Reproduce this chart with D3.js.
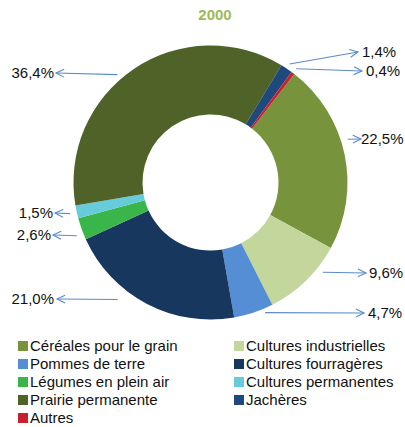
<!DOCTYPE html>
<html>
<head>
<meta charset="utf-8">
<script src="https://cdn.jsdelivr.net/npm/d3@7/dist/d3.min.js"></script>
<style>
  body { margin: 0; background: #fff; }
  svg { font-family: "Liberation Sans", Arial, sans-serif; }
</style>
</head>
<body>
<div id="chart"></div>
<script>
// data (sum slightly over 100 because of rounding)
var categories = ["Céréales pour le grain", "Cultures industrielles", "Pommes de terre",
  "Cultures fourragères", "Légumes en plein air", "Cultures permanentes",
  "Prairie permanente", "Jachères", "Autres"];
var shares = [22.5, 9.6, 4.7, 21.0, 2.6, 1.5, 36.4, 1.4, 0.4];
var labels = ["22,5%", "9,6%", "4,7%", "21,0%", "2,6%", "1,5%", "36,4%", "1,4%", "0,4%"];
var colors = ["#77933c", "#c3d69b", "#558ed5", "#17375e", "#3ab54a", "#66ccda", "#4f6228", "#1f497d", "#c8202e"];
var title = "2000";

// label placement (manual in the original): where on the slice the arrow starts
// (fraction of the slice angle, fraction of the outer radius), where its head sits,
// and the gap between head and text
var labelLayout = [
  { f: 0.43, k: 1.05, hx: 361, hy: 139, side: "right", gap: 0 },
  { f: 0.29, k: 1.05, hx: 366, hy: 273, side: "right", gap: 3 },
  { f: 0.24, k: 1.03, hx: 364, hy: 313, side: "right", gap: 4 },
  { f: 0.64, k: 1.09, hx: 57, hy: 299, side: "left", gap: 3 },
  { f: 0.29, k: 1.05, hx: 53, hy: 235, side: "left", gap: 2 },
  { f: 0.48, k: 1.05, hx: 55, hy: 213, side: "left", gap: 2 },
  { f: 0.45, k: 1.04, hx: 56, hy: 73, side: "left", gap: 2 },
  { f: 0.5, k: 1.04, hx: 358, hy: 52, side: "right", gap: 4 },
  { f: 0.5, k: 1.04, hx: 362, hy: 71, side: "right", gap: 4 }
];

var width = 405, height = 427;
var cx = 210.5, cy = 182.5;
var outerR = 137, innerR = 68;
var startAngle = 37.7 * Math.PI / 180;

var svg = d3.select("#chart").append("svg")
  .attr("width", width)
  .attr("height", height);

// title
svg.append("text")
  .attr("x", 215)
  .attr("y", 20)
  .attr("text-anchor", "middle")
  .style("font-size", "15px")
  .style("font-weight", "bold")
  .style("fill", "#9bbb59")
  .text(title);

var pie = d3.pie()
  .sort(null)
  .value(d => d)
  .startAngle(startAngle)
  .endAngle(startAngle + 2 * Math.PI);

var arcs = pie(shares);

var arc = d3.arc()
  .innerRadius(innerR)
  .outerRadius(outerR);

var g = svg.append("g")
  .attr("transform", `translate(${cx},${cy})`);

g.selectAll("path.slice")
  .data(arcs)
  .join("path")
  .attr("class", "slice")
  .attr("d", arc)
  .attr("fill", (d, i) => colors[i]);

// arrows + labels
var arrowColor = "#5b8bc9";
var ann = svg.append("g");

arcs.forEach(function (d, i) {
  var lay = labelLayout[i];
  var a = d.startAngle + lay.f * (d.endAngle - d.startAngle);
  var r = outerR * lay.k;
  var tx = cx + r * Math.sin(a);
  var ty = cy - r * Math.cos(a);
  var hx = lay.hx, hy = lay.hy;

  ann.append("line")
    .attr("x1", tx).attr("y1", ty)
    .attr("x2", hx).attr("y2", hy)
    .attr("stroke", arrowColor)
    .attr("stroke-width", 1.1);

  // open arrow head
  var ang = Math.atan2(hy - ty, hx - tx);
  var len = 9, spread = 0.45;
  var p1 = [hx - len * Math.cos(ang - spread), hy - len * Math.sin(ang - spread)];
  var p2 = [hx - len * Math.cos(ang + spread), hy - len * Math.sin(ang + spread)];
  ann.append("path")
    .attr("d", `M${p1[0]},${p1[1]}L${hx},${hy}L${p2[0]},${p2[1]}`)
    .attr("fill", "none")
    .attr("stroke", arrowColor)
    .attr("stroke-width", 1.1);

  ann.append("text")
    .attr("x", lay.side == "right" ? hx + lay.gap : hx - lay.gap)
    .attr("y", hy)
    .attr("dy", "0.35em")
    .attr("text-anchor", lay.side == "right" ? "start" : "end")
    .style("font-size", "15px")
    .style("fill", "#111")
    .text(labels[i]);
});

// legend, two columns
var legend = svg.append("g");
var colX = [18, 234], rowY0 = 346, rowH = 18;

categories.forEach(function (c, i) {
  var x = colX[i % 2];
  var y = rowY0 + Math.floor(i / 2) * rowH;
  legend.append("rect")
    .attr("x", x).attr("y", y - 5)
    .attr("width", 10).attr("height", 10)
    .attr("fill", colors[i]);
  legend.append("text")
    .attr("x", x + 12)
    .attr("y", y)
    .attr("dy", "0.35em")
    .style("font-size", "15px")
    .style("fill", "#111")
    .text(c);
});
</script>
</body>
</html>
